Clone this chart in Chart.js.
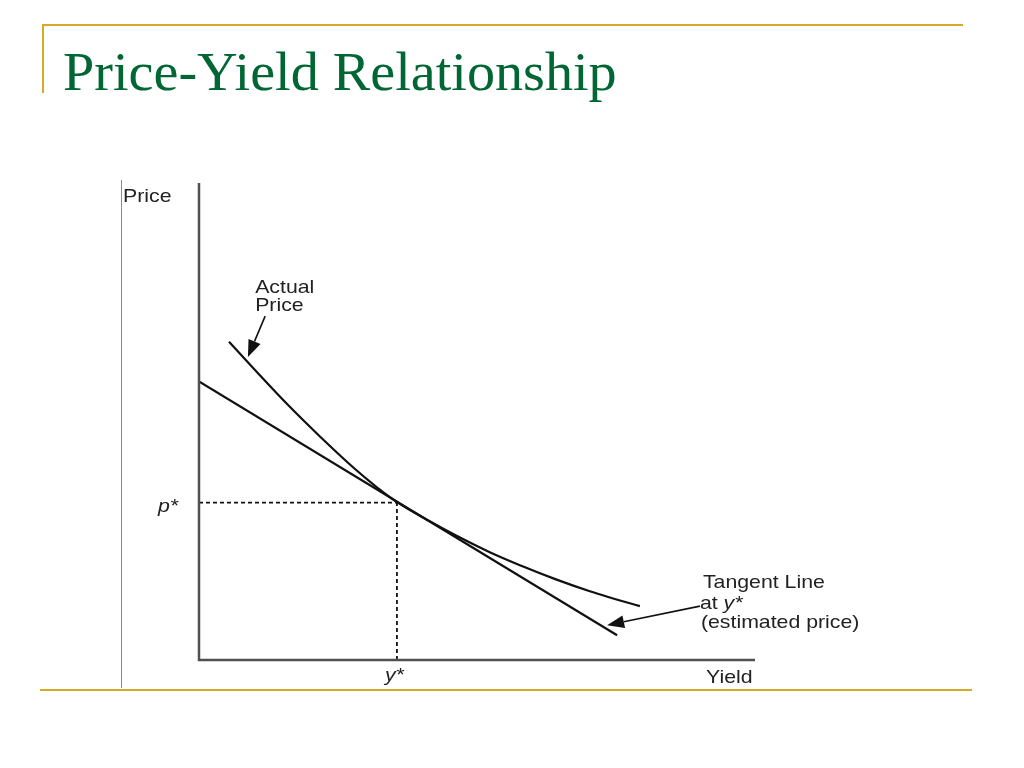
<!DOCTYPE html>
<html>
<head>
<meta charset="utf-8">
<script src="https://cdn.jsdelivr.net/npm/chart.js@4/dist/chart.umd.min.js"></script>
<style>
  html, body { margin:0; padding:0; background:#fff; }
  #slide { position:relative; width:1024px; height:768px; overflow:hidden; background:#fff; }
  #title { position:absolute; left:63px; top:44px; font-family:"Liberation Serif","Times New Roman",serif; font-size:55px; line-height:55px; color:#006633; white-space:nowrap; transform:scaleX(1.021); transform-origin:0 0; }
  .gold { position:absolute; background:#D8A928; }
  canvas { position:absolute; left:0; top:0; }
</style>
</head>
<body>
<div id="slide">
  <canvas id="c" width="1024" height="768"></canvas>
  <div class="gold" style="left:42px;top:24px;width:921px;height:2px;"></div>
  <div class="gold" style="left:42px;top:24px;width:2px;height:69px;"></div>
  <div class="gold" style="left:40px;top:689px;width:932px;height:2px;"></div>
  <div id="title">Price-Yield Relationship</div>
</div>
<script>
// ---- data (yield on x, price on y, arbitrary units) ----
const actualYield  = [0.54, 0.99, 1.58, 2.18, 2.77, 3.20, 3.56, 4.10, 4.64, 5.23, 5.83, 6.42, 7.03, 7.48, 7.93];
const actualPrice  = [6.67, 6.10, 5.37, 4.68, 4.04, 3.62, 3.31, 2.94, 2.60, 2.26, 1.96, 1.69, 1.44, 1.28, 1.13];
const tangentYield = [0, 7.52];
const tangentPrice = [5.84, 0.52];
const yStar = 3.56;
const pStar = 3.30;
const axisMin = 0;
const axisMax = 10;
// arrows: [tailX, tailY, tipX, tipY] in data units
const actualArrow  = [1.19, 7.21, 0.88, 6.35];
const tangentArrow = [9.01, 1.13, 7.34, 0.73];

const toPts = (xs, ys) => xs.map((x, i) => ({x, y: ys[i]}));

const FONT = '"Liberation Sans", Arial, Helvetica, sans-serif';
const FS = 18.5, SX = 1.15;

function txt(ctx, s, x, y, italic) {
  ctx.save();
  ctx.translate(x, y);
  ctx.scale(SX, 1);
  ctx.font = (italic ? 'italic ' : '') + FS + 'px ' + FONT;
  ctx.textBaseline = 'alphabetic';
  ctx.textAlign = 'left';
  ctx.fillStyle = '#222';
  ctx.fillText(s, 0, 0);
  const w = ctx.measureText(s).width * SX;
  ctx.restore();
  return w;
}

function arrow(ctx, sx, sy, a) {
  const x1 = sx.getPixelForValue(a[0]), y1 = sy.getPixelForValue(a[1]);
  const x2 = sx.getPixelForValue(a[2]), y2 = sy.getPixelForValue(a[3]);
  const ang = Math.atan2(y2 - y1, x2 - x1);
  const len = 17, hw = 6.5;
  const bx = x2 - len * Math.cos(ang), by = y2 - len * Math.sin(ang);
  ctx.save();
  ctx.strokeStyle = '#111'; ctx.fillStyle = '#111'; ctx.lineWidth = 1.6;
  ctx.beginPath(); ctx.moveTo(x1, y1); ctx.lineTo(bx, by); ctx.stroke();
  ctx.beginPath();
  ctx.moveTo(x2, y2);
  ctx.lineTo(bx + hw * Math.sin(ang), by - hw * Math.cos(ang));
  ctx.lineTo(bx - hw * Math.sin(ang), by + hw * Math.cos(ang));
  ctx.closePath(); ctx.fill();
  ctx.restore();
}

const decor = {
  id: 'decor',
  afterDraw(chart) {
    const ctx = chart.ctx, a = chart.chartArea;
    const sx = chart.scales.x, sy = chart.scales.y;
    ctx.save();
    // thin frame line at left
    ctx.strokeStyle = '#8a8a8a'; ctx.lineWidth = 1;
    ctx.beginPath(); ctx.moveTo(a.left - 77.5, a.top - 3); ctx.lineTo(a.left - 77.5, a.bottom + 28); ctx.stroke();
    // axes
    ctx.strokeStyle = '#505050'; ctx.lineWidth = 2.5;
    ctx.beginPath();
    ctx.moveTo(a.left, a.top); ctx.lineTo(a.left, a.bottom); ctx.lineTo(a.right, a.bottom);
    ctx.stroke();
    ctx.restore();

    arrow(ctx, sx, sy, actualArrow);
    arrow(ctx, sx, sy, tangentArrow);

    // axis titles
    txt(ctx, 'Price', a.left - 76, a.top + 19);
    txt(ctx, 'Yield', a.right - 49, a.bottom + 23);
    // markers
    txt(ctx, 'p*', a.left - 41, sy.getPixelForValue(pStar) + 9, true);
    txt(ctx, 'y*', sx.getPixelForValue(yStar) - 12, a.bottom + 21, true);
    // annotations
    const ax = sx.getPixelForValue(actualArrow[0]) - 10;
    const ay = sy.getPixelForValue(actualArrow[1]);
    txt(ctx, 'Actual', ax, ay - 23);
    txt(ctx, 'Price', ax, ay - 5);
    const tx = sx.getPixelForValue(tangentArrow[0]);
    const ty = sy.getPixelForValue(tangentArrow[1]);
    txt(ctx, 'Tangent Line', tx + 3, ty - 18);
    const w = txt(ctx, 'at ', tx, ty + 3);
    txt(ctx, 'y*', tx + w, ty + 3, true);
    txt(ctx, '(estimated price)', tx + 1, ty + 22);
  }
};

new Chart(document.getElementById('c'), {
  type: 'line',
  data: {
    datasets: [
      { label: 'Actual Price', data: toPts(actualYield, actualPrice), borderColor: '#111', borderWidth: 2.2,
        pointRadius: 0, tension: 0.4, fill: false },
      { label: 'Tangent Line', data: toPts(tangentYield, tangentPrice), borderColor: '#111', borderWidth: 2.2,
        pointRadius: 0, fill: false },
      { label: 'p* guide', data: [{x: axisMin, y: pStar}, {x: yStar, y: pStar}], borderColor: '#111', borderWidth: 1.8,
        borderDash: [4, 3], pointRadius: 0, fill: false },
      { label: 'y* guide', data: [{x: yStar, y: axisMin}, {x: yStar, y: pStar}], borderColor: '#111', borderWidth: 1.8,
        borderDash: [4, 3], pointRadius: 0, fill: false }
    ]
  },
  options: {
    responsive: false,
    animation: false,
    devicePixelRatio: 1,
    layout: { padding: { left: 199, right: 269, top: 183, bottom: 108 } },
    scales: {
      x: { type: 'linear', min: axisMin, max: axisMax, display: false },
      y: { type: 'linear', min: axisMin, max: axisMax, display: false }
    },
    plugins: { legend: { display: false }, tooltip: { enabled: false } }
  },
  plugins: [decor]
});
</script>
</body>
</html>
